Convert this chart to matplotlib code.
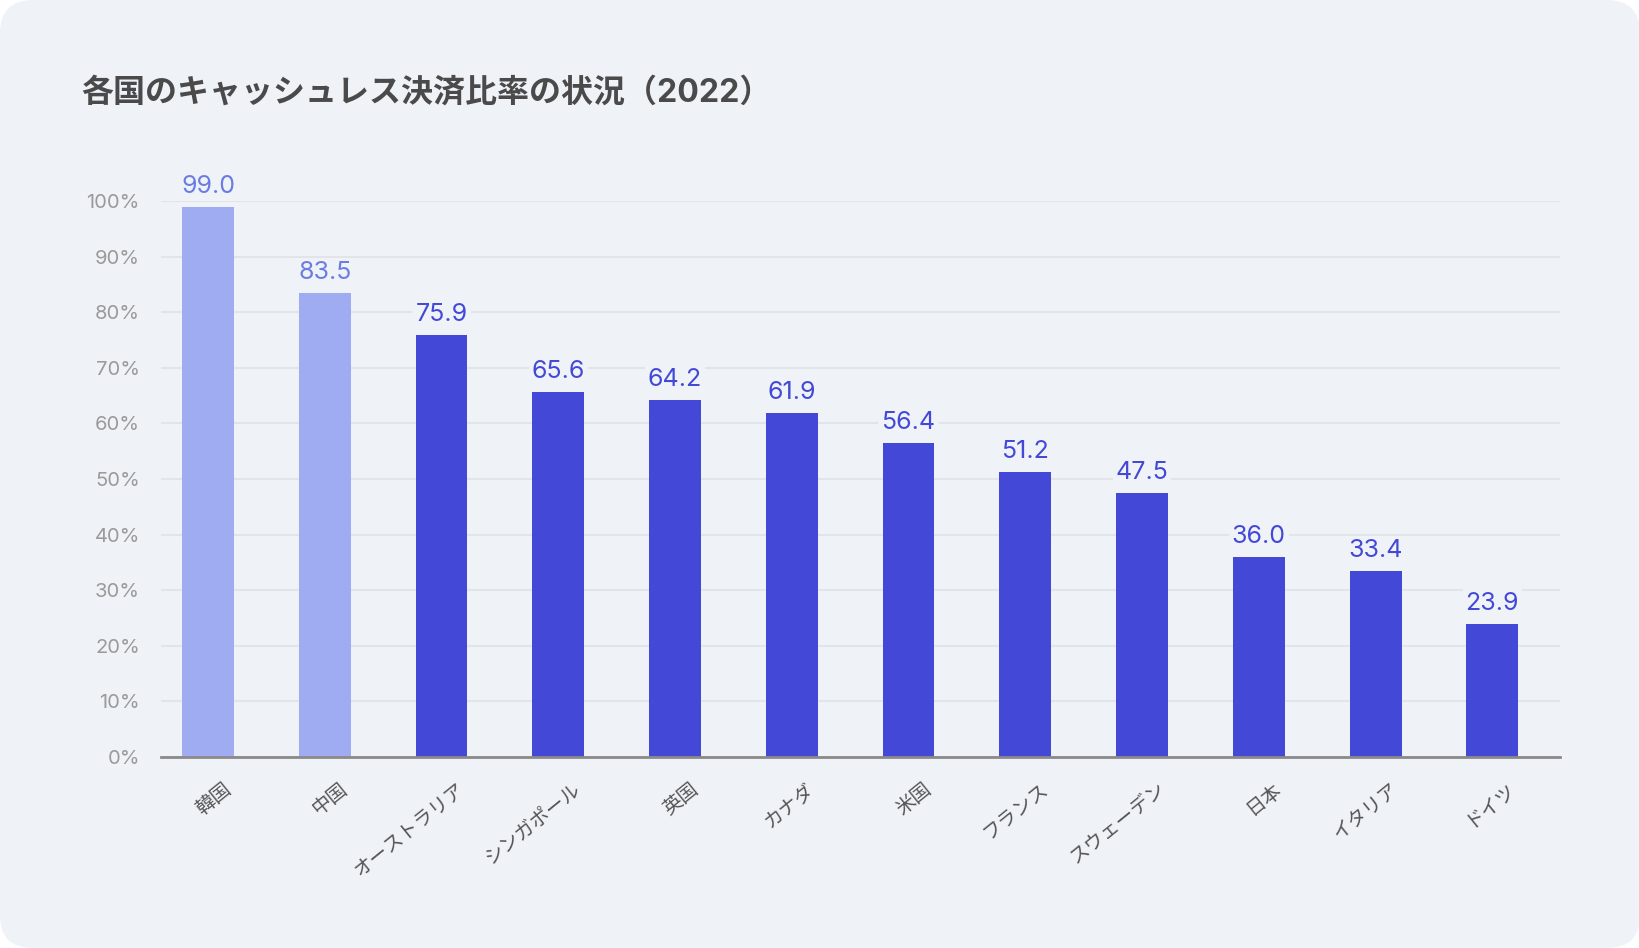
import matplotlib
matplotlib.use("Agg")
import matplotlib.pyplot as plt
from matplotlib.patches import FancyBboxPatch
from matplotlib.transforms import ScaledTranslation
import numpy as np

plt.rcParams["font.family"] = ["Inter", "Noto Sans CJK JP", "DejaVu Sans"]

# data (2022, cashless payment ratio %)
countries = ["韓国", "中国", "オーストラリア", "シンガポール", "英国", "カナダ",
             "米国", "フランス", "スウェーデン", "日本", "イタリア", "ドイツ"]
ratios = [99.0, 83.5, 75.9, 65.6, 64.2, 61.9, 56.4, 51.2, 47.5, 36.0, 33.4, 23.9]
highlight = [True, True] + [False] * 10   # first two drawn in lighter tone

PANEL = "#eff2f7"
LIGHT, LIGHT_TXT = "#9facf1", "#6b7ce2"
DARK, DARK_TXT = "#4349d6", "#4349d6"

DPI = 100
fig = plt.figure(figsize=(16.4, 9.48), dpi=DPI, facecolor="white")
fig.patches.append(FancyBboxPatch((0.0, 0.0), 1.0, 1.0,
                                  boxstyle="round,pad=0,rounding_size=0.02",
                                  transform=fig.transFigure, facecolor=PANEL,
                                  edgecolor="none", zorder=-10,
                                  mutation_aspect=1640 / 948))

ax = fig.add_axes([160.6 / 1640, 1 - 757 / 948, (1560 - 160.6) / 1640, (757 - 201) / 948])
ax.set_facecolor("none")
ax.set_zorder(2)

x = np.arange(len(countries))
cols = [LIGHT if h else DARK for h in highlight]
ax.bar(x, ratios, width=0.445, color=cols, zorder=3)

for xi, v, h in zip(x, ratios, highlight):
    ax.annotate(f"{v:.1f}", (xi, v), xytext=(0, 9), textcoords="offset pixels",
                ha="center", va="bottom", fontsize=18,
                color=LIGHT_TXT if h else DARK_TXT, zorder=5,
                bbox=dict(boxstyle="square,pad=0.12", facecolor=PANEL, edgecolor="none"))

ax.set_xlim(-0.406, 11.58)
ax.set_ylim(0, 100)
ax.set_yticks(np.arange(0, 101, 10))
ax.set_yticklabels([f"{t}%" for t in range(0, 101, 10)])
ax.tick_params(axis="y", length=0, pad=15, labelsize=14.5, labelcolor="#9a9a9a")
ax.set_xticks([])
ax.grid(axis="y", color="#e2e4e9", lw=1.5, zorder=1)
for s in ("top", "right", "left"):
    ax.spines[s].set_visible(False)
ax.spines["bottom"].set_color("#8a8a8a")
ax.spines["bottom"].set_linewidth(2)
ax.spines["bottom"].set_zorder(4)

# rotated category labels, end anchored a little right of each bar centre
off = ScaledTranslation(15 / DPI, -23 / DPI, fig.dpi_scale_trans)
for xi, name in zip(x, countries):
    ax.text(xi, 0, name, transform=ax.get_xaxis_transform() + off,
            rotation=39, rotation_mode="anchor", ha="right", va="top",
            fontsize=14, color="#555555")

fig.text(81 / 1640, 1 - 93 / 948, "各国のキャッシュレス決済比率の状況（2022）",
         fontsize=23, fontweight="bold", color="#4a4a4a", ha="left", va="center")

fig.savefig("out.png", dpi=DPI, facecolor="white")
